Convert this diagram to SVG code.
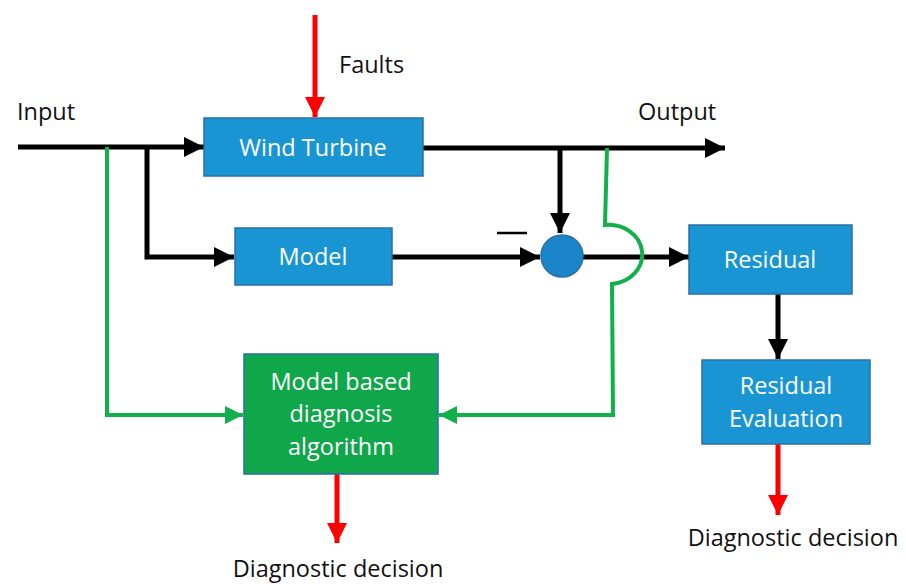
<svg xmlns="http://www.w3.org/2000/svg" width="906" height="584" viewBox="0 0 906 584">
<defs>
<style>
.lbl{font-family:"Open Sans","Liberation Sans",sans-serif;font-size:23.5px;fill:#111}
.btx{font-family:"Open Sans","Liberation Sans",sans-serif;font-size:23.5px;fill:#fff;text-anchor:middle}
.blue{fill:#1a95d3;stroke:#2a6fa8;stroke-width:1.5}
.grn{fill:#10a64a;stroke:#2a6fa8;stroke-width:1.5}
.bk{stroke:#000;stroke-width:5;fill:none}
.gr{stroke:#12b04a;stroke-width:4;fill:none}
.rd{stroke:#ff0000;stroke-width:5;fill:none}
</style>
<marker id="ab" viewBox="0 0 10 10" refX="10" refY="5" markerWidth="4" markerHeight="4" markerUnits="strokeWidth" orient="auto"><path d="M0,0 L10,5 L0,10 Z" fill="#000"/></marker>
<marker id="ag" viewBox="0 0 10 10" refX="10" refY="5" markerWidth="4.5" markerHeight="4.5" markerUnits="strokeWidth" orient="auto"><path d="M0,0 L10,5 L0,10 Z" fill="#12b04a"/></marker>
<marker id="ar" viewBox="0 0 10 10" refX="10" refY="5" markerWidth="4" markerHeight="4" markerUnits="strokeWidth" orient="auto"><path d="M0,0 L10,5 L0,10 Z" fill="#ff0000"/></marker>
</defs>
<g id="connectors">
<path class="bk" d="M18,147 H204" marker-end="url(#ab)"/>
<path class="bk" d="M147,147 V257 H234" marker-end="url(#ab)"/>
<path class="bk" d="M423,148 H725" marker-end="url(#ab)"/>
<path class="bk" d="M560,148 V233" marker-end="url(#ab)"/>
<path class="bk" d="M392,257 H540" marker-end="url(#ab)"/>
<path class="bk" d="M583,257 H689" marker-end="url(#ab)"/>
<path class="bk" d="M778,294 V359" marker-end="url(#ab)"/>
<path class="rd" d="M315,15 V117" marker-end="url(#ar)"/>
<path class="rd" d="M778,444 V515" marker-end="url(#ar)"/>
<path class="rd" d="M337,474 V543" marker-end="url(#ar)"/>
<path class="gr" d="M107,147 V415 H243" marker-end="url(#ag)"/>
<path class="gr" d="M607,148 L605,225 A33,29 0 0 1 612,284 L613,415 H439" marker-end="url(#ag)"/>
<path d="M497,233 H527" stroke="#000" stroke-width="2.5"/>
</g>
<g id="input-label"><text class="lbl" x="17" y="120">Input</text></g>
<g id="output-label"><text class="lbl" x="638" y="120">Output</text></g>
<g id="faults-label"><text class="lbl" x="339" y="73">Faults</text></g>
<g id="wind-turbine"><rect class="blue" x="204" y="118" width="219" height="58"/><text class="btx" x="313" y="156">Wind Turbine</text></g>
<g id="model"><rect class="blue" x="235" y="228" width="157" height="57"/><text class="btx" x="313" y="265">Model</text></g>
<g id="sum"><circle cx="562" cy="256" r="21" fill="#1a85c8" stroke="#2a6fa8" stroke-width="1.5"/></g>
<g id="residual"><rect class="blue" x="689" y="225" width="163" height="69"/><text class="btx" x="770" y="268">Residual</text></g>
<g id="residual-eval"><rect class="blue" x="702" y="360" width="168" height="84"/><text class="btx" x="786" y="394">Residual</text><text class="btx" x="786" y="427">Evaluation</text></g>
<g id="diag-algo"><rect class="grn" x="244" y="354" width="194" height="120"/><text class="btx" x="341" y="390">Model based</text><text class="btx" x="341" y="422">diagnosis</text><text class="btx" x="341" y="455">algorithm</text></g>
<g id="decision-right"><text class="lbl" x="793" y="546" text-anchor="middle">Diagnostic decision</text></g>
<g id="decision-left"><text class="lbl" x="338" y="577" text-anchor="middle">Diagnostic decision</text></g>
</svg>
